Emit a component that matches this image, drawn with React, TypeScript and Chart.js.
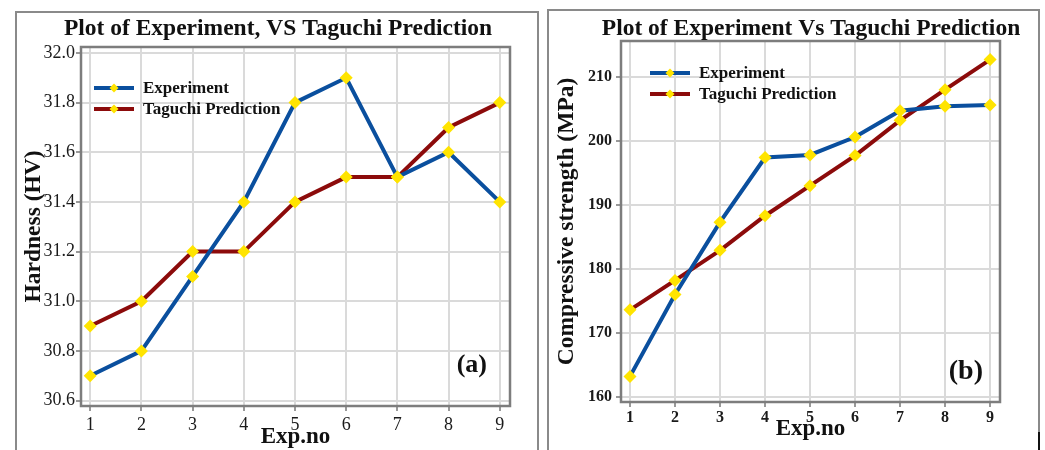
import React, { useEffect, useRef } from 'react';
import { Chart, registerables } from 'chart.js';

Chart.register(...registerables);

// ---------- data ----------
const expNo = [1, 2, 3, 4, 5, 6, 7, 8, 9];
const seriesNames = ['Experiment', 'Taguchi Prediction'];

const hardnessExperiment = [30.7, 30.8, 31.1, 31.4, 31.8, 31.9, 31.5, 31.6, 31.4];
const hardnessTaguchi = [30.9, 31.0, 31.2, 31.2, 31.4, 31.5, 31.5, 31.7, 31.8];
const hardnessTicks = [30.6, 30.8, 31.0, 31.2, 31.4, 31.6, 31.8, 32.0];

const strengthExperiment = [163.2, 176.0, 187.3, 197.4, 197.8, 200.6, 204.7, 205.4, 205.6];
const strengthTaguchi = [173.6, 178.2, 182.9, 188.3, 193.0, 197.7, 203.2, 208.0, 212.7];
const strengthTicks = [160, 170, 180, 190, 200, 210];

// ---------- styles ----------
const SERIF = '"Liberation Serif", "Times New Roman", serif';
const BLUE = '#0a4f9e';
const RED = '#8c0b0b';
const YELLOW = '#ffe400';
const GRID = '#dadada';
const FRAME = '#7d7d7d';

const panelDecor = {
  id: 'panelDecor',
  beforeDatasetsDraw(chart: any) {
    const { ctx, chartArea: a } = chart;
    ctx.save();
    ctx.strokeStyle = FRAME;
    ctx.lineWidth = 2.5;
    ctx.strokeRect(a.left, a.top, a.right - a.left, a.bottom - a.top);
    ctx.restore();
  },
  afterDatasetsDraw(chart: any, _args: any, opts: any) {
    const { ctx, chartArea: a } = chart;
    ctx.save();
    // main title
    ctx.fillStyle = '#111';
    ctx.font = `bold ${opts.titleSize}px ${SERIF}`;
    ctx.textAlign = 'center';
    ctx.textBaseline = 'alphabetic';
    ctx.fillText(opts.title, opts.titleX, opts.titleY);

    // legend inside the plot
    chart.data.datasets.forEach((ds: any, i: number) => {
      const y = a.top + opts.legendY + i * opts.legendGap;
      const x0 = a.left + opts.legendX;
      const x1 = x0 + 40;
      ctx.strokeStyle = ds.borderColor;
      ctx.lineWidth = 4;
      ctx.beginPath();
      ctx.moveTo(x0, y);
      ctx.lineTo(x1, y);
      ctx.stroke();
      const cx = (x0 + x1) / 2;
      const r = 4.5;
      ctx.fillStyle = YELLOW;
      ctx.beginPath();
      ctx.moveTo(cx, y - r);
      ctx.lineTo(cx + r, y);
      ctx.lineTo(cx, y + r);
      ctx.lineTo(cx - r, y);
      ctx.closePath();
      ctx.fill();
      ctx.fillStyle = '#111';
      ctx.font = `bold 17px ${SERIF}`;
      ctx.textAlign = 'left';
      ctx.textBaseline = 'middle';
      ctx.fillText(ds.label, x1 + 9, y + 1);
    });

    // panel tag
    ctx.fillStyle = '#111';
    ctx.font = `bold ${opts.tagSize}px ${SERIF}`;
    ctx.textAlign = 'right';
    ctx.textBaseline = 'alphabetic';
    ctx.fillText(opts.tag, a.right - opts.tagRight, a.bottom - opts.tagBottom);
    ctx.restore();
  },
};

type PanelProps = {
  width: number;
  height: number;
  left: number;
  top: number;
  experiment: number[];
  taguchi: number[];
  yTicks: number[];
  yMin: number;
  yMax: number;
  xMin: number;
  xMax: number;
  yDecimals: number;
  yTitle: string;
  tickBold: boolean;
  tickSize: number;
  yScaleWidth: number;
  xScaleHeight: number;
  padTop: number;
  padRight: number;
  yTickPad: number;
  xTickPad: number;
  yTitlePad: number;
  xTitlePad: number;
  decor: any;
};

function Panel(p: PanelProps) {
  const ref = useRef<HTMLCanvasElement | null>(null);
  useEffect(() => {
    if (!ref.current) return;
    const tickFont = { family: SERIF, size: p.tickSize, weight: p.tickBold ? 'bold' : 'normal', lineHeight: 1.2 } as any;
    const yTitleFont = { family: SERIF, size: 23.5, weight: 'bold', lineHeight: 1 } as any;
    const xTitleFont = { family: SERIF, size: 23, weight: 'bold', lineHeight: 1 } as any;
    const mkDs = (label: string, values: number[], color: string) => ({
      label,
      data: expNo.map((x, i) => ({ x, y: values[i] })),
      borderColor: color,
      backgroundColor: color,
      borderWidth: 4,
      pointStyle: 'rectRot',
      pointRadius: 6.5,
      pointBackgroundColor: YELLOW,
      pointBorderColor: YELLOW,
      pointBorderWidth: 0,
      tension: 0,
    });
    const chart = new Chart(ref.current, {
      type: 'line',
      data: {
        datasets: [
          mkDs(seriesNames[0], p.experiment, BLUE),
          mkDs(seriesNames[1], p.taguchi, RED),
        ],
      },
      options: {
        responsive: false,
        animation: false,
        devicePixelRatio: 1,
        layout: { padding: { top: p.padTop, right: p.padRight, left: 0, bottom: 0 } },
        plugins: {
          legend: { display: false },
          tooltip: { enabled: false },
          title: { display: false },
          panelDecor: p.decor,
        } as any,
        scales: {
          x: {
            type: 'linear',
            min: p.xMin,
            max: p.xMax,
            afterBuildTicks: (s: any) => {
              s.ticks = expNo.map((v) => ({ value: v }));
            },
            afterFit: (s: any) => {
              s.height = p.xScaleHeight;
            },
            ticks: {
              font: tickFont,
              color: '#1a1a1a',
              padding: p.xTickPad,
              maxRotation: 0,
              autoSkip: false,
              callback: (v: any) => String(v),
            },
            grid: { color: GRID, lineWidth: 2, tickLength: 5, tickColor: '#777', tickWidth: 1.5 },
            border: { display: false },
            title: {
              display: true,
              text: 'Exp.no',
              font: xTitleFont,
              color: '#111',
              padding: { top: 0, bottom: p.xTitlePad },
            },
          },
          y: {
            type: 'linear',
            min: p.yMin,
            max: p.yMax,
            afterBuildTicks: (s: any) => {
              s.ticks = p.yTicks.map((v) => ({ value: v }));
            },
            afterFit: (s: any) => {
              s.width = p.yScaleWidth;
            },
            ticks: {
              font: tickFont,
              color: '#1a1a1a',
              padding: p.yTickPad,
              autoSkip: false,
              callback: (v: any) => Number(v).toFixed(p.yDecimals),
            },
            grid: { color: GRID, lineWidth: 2, tickLength: 5, tickColor: '#777', tickWidth: 1.5 },
            border: { display: false },
            title: {
              display: true,
              text: p.yTitle,
              font: yTitleFont,
              color: '#111',
              padding: { top: p.yTitlePad, bottom: 0 },
            },
          },
        },
      } as any,
      plugins: [panelDecor as any],
    });
    return () => chart.destroy();
  }, []);
  return (
    <canvas
      ref={ref}
      width={p.width}
      height={p.height}
      style={{ position: 'absolute', left: p.left, top: p.top, width: p.width, height: p.height }}
    />
  );
}

export default function App() {
  return (
    <div
      style={{
        position: 'fixed',
        left: 0,
        top: 0,
        width: 1045,
        height: 450,
        background: '#fff',
        overflow: 'hidden',
      }}
    >
      <div
        style={{
          position: 'absolute',
          left: 15,
          top: 11,
          width: 524,
          height: 470,
          border: '2px solid #8a8a8a',
          boxSizing: 'border-box',
        }}
      />
      <div
        style={{
          position: 'absolute',
          left: 547,
          top: 9,
          width: 493,
          height: 425,
          borderTop: '2px solid #8a8a8a',
          borderLeft: '2px solid #8a8a8a',
          borderRight: '2px solid #8a8a8a',
          boxSizing: 'border-box',
        }}
      />
      <div
        style={{
          position: 'absolute',
          left: 547,
          top: 430,
          width: 2,
          height: 30,
          background: '#8a8a8a',
        }}
      />
      <div
        style={{ position: 'absolute', left: 1038, top: 432, width: 2, height: 20, background: '#111' }}
      />
      <Panel
        width={522}
        height={438}
        left={16}
        top={12}
        experiment={hardnessExperiment}
        taguchi={hardnessTaguchi}
        yTicks={hardnessTicks}
        yMin={30.578}
        yMax={32.024}
        xMin={0.82}
        xMax={9.2}
        yDecimals={1}
        yTitle="Hardness (HV)"
        tickBold={false}
        tickSize={18}
        yScaleWidth={65}
        xScaleHeight={44}
        padTop={35}
        padRight={28}
        yTickPad={1}
        xTickPad={3}
        yTitlePad={6}
        xTitlePad={1}
        decor={{
          title: 'Plot of Experiment, VS Taguchi Prediction',
          titleX: 262,
          titleY: 23,
          titleSize: 23.5,
          legendX: 13,
          legendY: 41,
          legendGap: 21,
          tag: '(a)',
          tagSize: 26,
          tagRight: 23,
          tagBottom: 34,
        }}
      />
      <Panel
        width={492}
        height={440}
        left={548}
        top={10}
        experiment={strengthExperiment}
        taguchi={strengthTaguchi}
        yTicks={strengthTicks}
        yMin={159.2}
        yMax={215.6}
        xMin={0.8}
        xMax={9.22}
        yDecimals={0}
        yTitle="Compressive strength (MPa)"
        tickBold={true}
        tickSize={16}
        yScaleWidth={73}
        xScaleHeight={48}
        padTop={31}
        padRight={40}
        yTickPad={4}
        xTickPad={1}
        yTitlePad={7}
        xTitlePad={9}
        decor={{
          title: 'Plot of Experiment Vs Taguchi Prediction',
          titleX: 263,
          titleY: 25,
          titleSize: 23.5,
          legendX: 29,
          legendY: 32,
          legendGap: 21,
          tag: '(b)',
          tagSize: 28,
          tagRight: 17,
          tagBottom: 23,
        }}
      />
    </div>
  );
}
